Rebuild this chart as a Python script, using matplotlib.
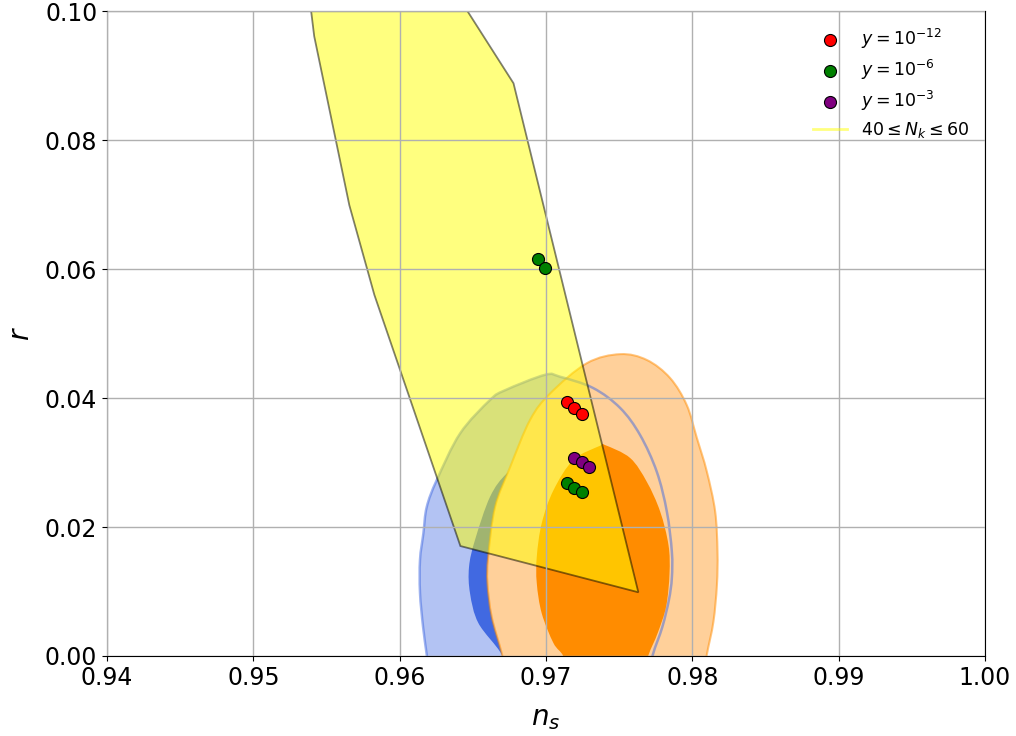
import matplotlib
matplotlib.use("Agg")
import matplotlib.pyplot as plt
import numpy as np
from matplotlib.lines import Line2D
from matplotlib.path import Path
from matplotlib.patches import PathPatch

# ---- data (n_s, r) ----
blue_outer_ns = [0.96208, 0.96185, 0.96160, 0.96139, 0.96139, 0.96162, 0.96185, 0.96254, 0.96413,
                 0.96618, 0.96720, 0.96994, 0.97096, 0.97322, 0.97507, 0.97643, 0.97757, 0.97826,
                 0.97860, 0.97860, 0.97840, 0.97795, 0.97730, 0.97690]
blue_outer_r = [-0.004, 0.0002, 0.0045, 0.0098, 0.0149, 0.0190, 0.0231, 0.0273, 0.0345,
                0.0397, 0.0412, 0.0436, 0.0433, 0.04155, 0.03845, 0.03426, 0.02857, 0.02237,
                0.01617, 0.01209, 0.0087, 0.0045, 0.0002, -0.004]

blue_inner_ns = [0.96750, 0.96698, 0.96538, 0.96481, 0.96474, 0.96515, 0.96618, 0.96732, 0.9690,
                 0.9710, 0.9735, 0.9760, 0.9775, 0.9778, 0.9770, 0.9765]
blue_inner_r = [-0.004, 0.0002, 0.0051, 0.0097, 0.0138, 0.0180, 0.0247, 0.0283, 0.0310,
                0.0320, 0.0300, 0.0250, 0.0180, 0.0100, 0.0030, -0.004]

orange_outer_ns = [0.96740, 0.96698, 0.96629, 0.96600, 0.96605, 0.96652, 0.96755, 0.96891, 0.97028,
                   0.97279, 0.97507, 0.97689, 0.97848, 0.97962, 0.98031, 0.98099, 0.98156, 0.98172,
                   0.98168, 0.98144, 0.98099, 0.98070]
orange_outer_r = [-0.004, 0.0004, 0.0061, 0.0113, 0.0154, 0.0231, 0.0293, 0.0366, 0.0407,
                  0.0454, 0.0468, 0.0459, 0.0431, 0.0389, 0.0338, 0.0286, 0.0224, 0.0162,
                  0.0110, 0.0053, 0.0002, -0.004]

orange_inner_ns = [0.97140, 0.97117, 0.97051, 0.96971, 0.96937, 0.96937, 0.96971, 0.97051, 0.97187,
                   0.97370, 0.97404, 0.97575, 0.97689, 0.97780, 0.97837, 0.97844, 0.97821, 0.97764,
                   0.97701, 0.97660]
orange_inner_r = [-0.003, 0.0, 0.0020, 0.0066, 0.0113, 0.0154, 0.0206, 0.0257, 0.0304,
                  0.0326, 0.0327, 0.0307, 0.0270, 0.0224, 0.0172, 0.0128, 0.0077, 0.0036,
                  0.0002, -0.003]

band_ns = [0.95395, 0.95416, 0.95656, 0.95827, 0.96415, 0.97631, 0.96778, 0.96463]
band_r = [0.1000, 0.0961, 0.0699, 0.0560, 0.01705, 0.00988, 0.0888, 0.1000]

red_ns = [0.97142, 0.97192, 0.97245]
red_r = [0.03933, 0.03850, 0.03752]
green_ns = [0.96944, 0.96994, 0.97142, 0.97192, 0.97245]
green_r = [0.06150, 0.06020, 0.02677, 0.02600, 0.02547]
purple_ns = [0.97192, 0.97245, 0.97297]
purple_r = [0.03075, 0.03003, 0.02926]

x_ticks = [0.94, 0.95, 0.96, 0.97, 0.98, 0.99, 1.00]
y_ticks = [0.00, 0.02, 0.04, 0.06, 0.08, 0.10]


def smooth_region_path(xs, ys, floor=-0.02):
    """Smooth Bezier curve through the points; both open ends are joined below the axis."""
    p = np.column_stack([xs, ys])
    n = len(p)
    ext = np.vstack([2 * p[0] - p[1], p, 2 * p[-1] - p[-2]])
    verts = [p[0]]
    codes = [Path.MOVETO]
    for i in range(n - 1):
        p0, p1, p2, p3 = ext[i], ext[i + 1], ext[i + 2], ext[i + 3]
        verts += [p1 + (p2 - p0) / 6.0, p2 - (p3 - p1) / 6.0, p2]
        codes += [Path.CURVE4] * 3
    verts += [(p[-1][0], floor), (p[0][0], floor), p[0]]
    codes += [Path.LINETO, Path.LINETO, Path.CLOSEPOLY]
    return Path(verts, codes)


# ---- figure ----
fig = plt.figure(figsize=(10.16, 7.36), dpi=100)
ax = fig.add_axes([0.1053, 0.1087, 0.8642, 0.8763])

bo = smooth_region_path(blue_outer_ns, blue_outer_r)
bi = smooth_region_path(blue_inner_ns, blue_inner_r)
oo = smooth_region_path(orange_outer_ns, orange_outer_r)
oi = smooth_region_path(orange_inner_ns, orange_inner_r)

ax.add_patch(PathPatch(bo, facecolor='royalblue', alpha=0.4, lw=0, zorder=1))
ax.add_patch(PathPatch(bi, facecolor='royalblue', lw=0, zorder=1.1))
ax.add_patch(PathPatch(oo, facecolor='#ffd09a', lw=0, zorder=1.2))
ax.add_patch(PathPatch(oi, facecolor='darkorange', lw=0, zorder=1.3))
ax.add_patch(PathPatch(oo, facecolor='none', edgecolor='darkorange', alpha=0.5, lw=1.5, zorder=1.4))
ax.add_patch(PathPatch(bo, facecolor='none', edgecolor='royalblue', alpha=0.5, lw=1.8, zorder=1.5))
ax.fill(band_ns, band_r, facecolor=(1, 1, 0, 0.5), edgecolor=(0, 0, 0, 0.5), lw=1.3, zorder=1.6)

ax.scatter(red_ns, red_r, s=75, color='red', edgecolors='black', linewidths=0.8, zorder=3,
           label=r'$y = 10^{-12}$')
ax.scatter(green_ns, green_r, s=75, color='green', edgecolors='black', linewidths=0.8, zorder=3,
           label=r'$y = 10^{-6}$')
ax.scatter(purple_ns, purple_r, s=75, color='purple', edgecolors='black', linewidths=0.8, zorder=3,
           label=r'$y = 10^{-3}$')

ax.set_xlim(0.94, 1.00)
ax.set_ylim(0.0, 0.10)
ax.set_xticks(x_ticks)
ax.set_yticks(y_ticks)
ax.set_xticklabels([f'{v:.2f}' for v in x_ticks])
ax.set_yticklabels([f'{v:.2f}' for v in y_ticks])
ax.tick_params(labelsize=17)
ax.set_axisbelow(False)
ax.grid(True, color='#b0b0b0', lw=1.0)
ax.set_xlabel(r'$n_s$', fontsize=20, labelpad=10)
ax.set_ylabel(r'$r$', fontsize=20, labelpad=7)

handles, labels = ax.get_legend_handles_labels()
handles.append(Line2D([], [], color='yellow', alpha=0.5, lw=2))
labels.append(r'$40 \leq N_k \leq 60$')
ax.legend(handles, labels, loc='upper right', frameon=False, fontsize=12.5, labelspacing=0.4)

fig.savefig('out.png', dpi=100)
